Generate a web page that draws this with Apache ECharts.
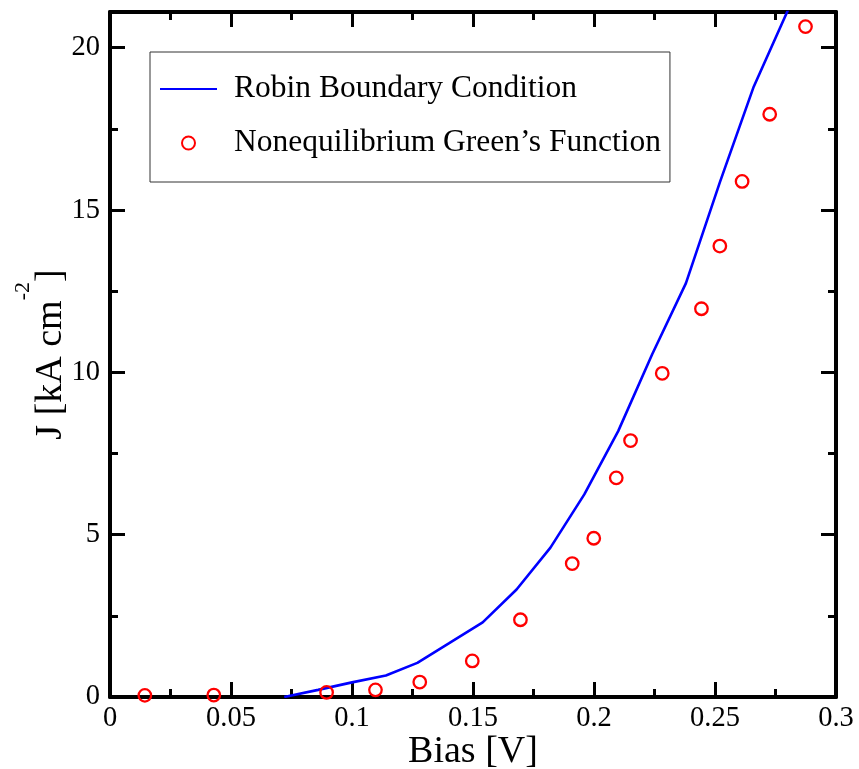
<!DOCTYPE html>
<html><head><meta charset="utf-8">
<script src="https://cdn.jsdelivr.net/npm/echarts@6/dist/echarts.min.js"></script>
<style>html,body{margin:0;padding:0;background:#fff}#c{width:859px;height:769px}</style>
</head><body><div id="c"></div>
<script>
// Robin Boundary Condition (blue line)
const robinX = [0.072, 0.086, 0.100, 0.114, 0.127, 0.140, 0.154, 0.168, 0.182, 0.196, 0.210, 0.224, 0.238, 0.252, 0.266, 0.281];
const robinY = [0.00, 0.22, 0.45, 0.66, 1.05, 1.65, 2.30, 3.31, 4.60, 6.24, 8.19, 10.55, 12.75, 15.85, 18.80, 21.30];
// Nonequilibrium Green's Function (red circles)
const ngfX = [0.0144, 0.0429, 0.0895, 0.1097, 0.128, 0.1497, 0.1696, 0.191, 0.1999, 0.2092, 0.2151, 0.2282, 0.2444, 0.2520, 0.2612, 0.2726, 0.2874];
const ngfY = [0.05, 0.06, 0.14, 0.22, 0.46, 1.11, 2.38, 4.11, 4.89, 6.75, 7.90, 9.97, 11.96, 13.89, 15.88, 17.95, 20.65];
// Axis ticks
const xTickLabels = ['0', '0.05', '0.1', '0.15', '0.2', '0.25', '0.3'];
const yMajorTicks = [0, 5, 10, 15, 20];
const yMinorTicks = [2.5, 7.5, 12.5, 17.5];
const seriesNames = ['Robin Boundary Condition', 'Nonequilibrium Green\u2019s Function'];

const FONT = "'Liberation Serif', 'Times New Roman', serif";
const X_MIN = 0, X_MAX = 0.3, Y_MIN = 0, Y_MAX = 21.1;
const blk = '#000';

function xAxisDef(pos, showLabel) {
  return {
    type: 'value', position: pos, min: X_MIN, max: X_MAX, interval: 0.05,
    axisLine: { show: true, onZero: false, lineStyle: { color: blk, width: 4 } },
    axisTick: { show: true, inside: true, length: 15, lineStyle: { color: blk, width: 3 } },
    minorTick: { show: true, splitNumber: 2, length: 8, lineStyle: { color: blk, width: 3 } },
    splitLine: { show: false }, minorSplitLine: { show: false },
    axisLabel: {
      show: showLabel, fontFamily: FONT, fontSize: 28.5, lineHeight: 28, color: blk, margin: 8,
      formatter: (v, i) => xTickLabels[i] !== undefined ? xTickLabels[i] : ''
    }
  };
}
function yAxisDef(pos, major, showLabel) {
  return {
    type: 'value', position: pos, min: Y_MIN, max: Y_MAX, interval: 5,
    axisLine: { show: major, onZero: false, lineStyle: { color: blk, width: 4 } },
    axisTick: {
      show: true, inside: true, length: major ? 15 : 8,
      customValues: major ? yMajorTicks : yMinorTicks,
      lineStyle: { color: blk, width: 3 }
    },
    splitLine: { show: false },
    axisLabel: {
      show: showLabel, fontFamily: FONT, fontSize: 28.5, lineHeight: 28, color: blk, margin: 10,
      customValues: yMajorTicks,
      formatter: v => String(v)
    }
  };
}

const xAxes = [xAxisDef('bottom', true), xAxisDef('top', false)];
Object.assign(xAxes[0], {
  name: 'Bias [V]', nameLocation: 'middle', nameGap: 36, nameMoveOverlap: false,
  nameTextStyle: { fontFamily: FONT, fontSize: 38, lineHeight: 38, color: blk }
});
const yAxes = [yAxisDef('left', true, true), yAxisDef('left', false, false), yAxisDef('right', true, false), yAxisDef('right', false, false)];
Object.assign(yAxes[0], {
  name: '{m|J [kA cm}{sup|-2}{m|]}', nameLocation: 'middle', nameGap: 40, nameMoveOverlap: false,
  nameTextStyle: {
    fontFamily: FONT, fontSize: 38, color: blk,
    rich: {
      m: { fontFamily: FONT, fontSize: 38, lineHeight: 38, color: blk, verticalAlign: 'bottom' },
      sup: { fontFamily: FONT, fontSize: 22, lineHeight: 22, color: blk, verticalAlign: 'bottom', padding: [0, 0, 36, 0] }
    }
  }
});

const chart = echarts.init(document.getElementById('c'), null, { renderer: 'canvas' });
chart.setOption({
  animation: false,
  backgroundColor: '#fff',
  grid: { left: 110, right: 23, top: 12, bottom: 72, containLabel: false, outerBoundsMode: 'none' },
  legend: {
    orient: 'vertical', left: 150, top: 52,
    padding: [21, 9, 23, 9],
    itemWidth: 57, itemHeight: 13, itemGap: 22,
    borderColor: '#333', borderWidth: 1, backgroundColor: '#fff',
    textStyle: { fontFamily: FONT, fontSize: 31.5, lineHeight: 32, color: blk, padding: [0, 0, 0, 12] },
    data: [
      { name: seriesNames[0], itemStyle: { color: 'rgba(0,0,0,0)', borderColor: 'rgba(0,0,0,0)', borderWidth: 0 } },
      { name: seriesNames[1] }
    ]
  },
  xAxis: xAxes,
  yAxis: yAxes,
  series: [
    {
      name: seriesNames[0], type: 'line', xAxisIndex: 0, yAxisIndex: 0,
      data: robinX.map((x, i) => [x, robinY[i]]),
      symbol: 'none', clip: true,
      lineStyle: { color: '#0000ff', width: 2.6 }, itemStyle: { color: '#0000ff' }, z: 3
    },
    {
      name: seriesNames[1], type: 'scatter', xAxisIndex: 0, yAxisIndex: 0,
      data: ngfX.map((x, i) => [x, ngfY[i]]),
      symbol: 'circle', symbolSize: 12.5,
      itemStyle: { color: 'rgba(255,255,255,0)', borderColor: '#ff0000', borderWidth: 2.3, opacity: 1 }, z: 4
    }
  ]
});
</script>
</body></html>
